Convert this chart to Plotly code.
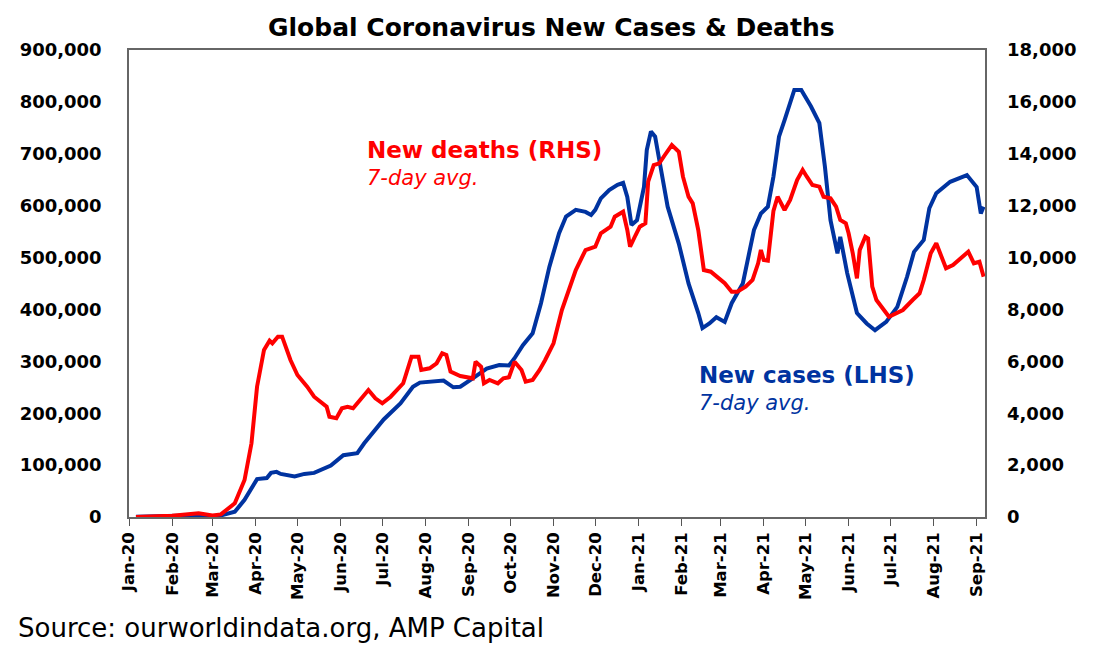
import plotly.graph_objects as go

# ---------------- data ----------------
case_dates = [
    "2020-01-06", "2020-01-22", "2020-02-05", "2020-02-14", "2020-03-01", "2020-03-07",
    "2020-03-17", "2020-03-24", "2020-03-31", "2020-04-02", "2020-04-09", "2020-04-12",
    "2020-04-16", "2020-04-19", "2020-04-29", "2020-05-06", "2020-05-13", "2020-05-20",
    "2020-05-25", "2020-06-03", "2020-06-13", "2020-06-18", "2020-07-02", "2020-07-14",
    "2020-07-23", "2020-07-28", "2020-08-14", "2020-08-21", "2020-08-26", "2020-09-04",
    "2020-09-14", "2020-09-23", "2020-09-30", "2020-10-04", "2020-10-10", "2020-10-17",
    "2020-10-23", "2020-10-29", "2020-11-05", "2020-11-10", "2020-11-17", "2020-11-24",
    "2020-11-28", "2020-12-01", "2020-12-05", "2020-12-11", "2020-12-17", "2020-12-21",
    "2020-12-24", "2020-12-27", "2020-12-31", "2021-01-05", "2021-01-07", "2021-01-10",
    "2021-01-13", "2021-01-16", "2021-01-22", "2021-01-30", "2021-02-06", "2021-02-13",
    "2021-02-16", "2021-02-21", "2021-02-26", "2021-03-04", "2021-03-09", "2021-03-17",
    "2021-03-25", "2021-03-30", "2021-04-04", "2021-04-08", "2021-04-12", "2021-04-16",
    "2021-04-23", "2021-04-28", "2021-05-05", "2021-05-11", "2021-05-15", "2021-05-19",
    "2021-05-24", "2021-05-26", "2021-05-31", "2021-06-07", "2021-06-14", "2021-06-20",
    "2021-06-28", "2021-07-06", "2021-07-13", "2021-07-18", "2021-07-25", "2021-07-29",
    "2021-08-03", "2021-08-13", "2021-08-25", "2021-09-01", "2021-09-04", "2021-09-06",
]
new_cases = [
    500, 600, 2500, 3500, 1500, 3000,
    10000, 33000, 65000, 73000, 75000, 85000,
    87000, 83000, 78000, 83000, 85000, 94000,
    99000, 119000, 123000, 142000, 188000, 219000,
    251000, 259000, 263000, 250000, 251000, 267000,
    286000, 293000, 292000, 306000, 331000, 354000,
    412000, 482000, 547000, 579000, 592000, 588000,
    582000, 592000, 614000, 630000, 640000, 644000,
    617000, 563000, 572000, 636000, 707000, 743000,
    733000, 688000, 598000, 527000, 450000, 393000,
    364000, 373000, 385000, 376000, 412000, 450000,
    553000, 585000, 598000, 656000, 733000, 765000,
    823000, 823000, 791000, 759000, 675000, 572000,
    508000, 540000, 470000, 393000, 373000, 360000,
    376000, 405000, 463000, 511000, 534000, 595000,
    624000, 646000, 659000, 636000, 585000, 598000,
]

death_dates = [
    "2020-01-06", "2020-02-01", "2020-02-20", "2020-03-01", "2020-03-07", "2020-03-17",
    "2020-03-24", "2020-03-29", "2020-04-02", "2020-04-07", "2020-04-11", "2020-04-13",
    "2020-04-17", "2020-04-20", "2020-04-26", "2020-05-01", "2020-05-08", "2020-05-13",
    "2020-05-22", "2020-05-24", "2020-05-29", "2020-06-02", "2020-06-06", "2020-06-10",
    "2020-06-15", "2020-06-21", "2020-06-26", "2020-07-01", "2020-07-07", "2020-07-16",
    "2020-07-22", "2020-07-27", "2020-07-29", "2020-08-04", "2020-08-09", "2020-08-13",
    "2020-08-16", "2020-08-19", "2020-08-26", "2020-09-04", "2020-09-06", "2020-09-10",
    "2020-09-12", "2020-09-16", "2020-09-22", "2020-09-26", "2020-09-30", "2020-10-04",
    "2020-10-09", "2020-10-12", "2020-10-17", "2020-10-22", "2020-10-26", "2020-11-01",
    "2020-11-07", "2020-11-14", "2020-11-17", "2020-11-24", "2020-12-01", "2020-12-05",
    "2020-12-12", "2020-12-15", "2020-12-21", "2020-12-24", "2020-12-26", "2020-12-30",
    "2021-01-02", "2021-01-06", "2021-01-08", "2021-01-12", "2021-01-16", "2021-01-20",
    "2021-01-25", "2021-01-30", "2021-02-02", "2021-02-06", "2021-02-09", "2021-02-13",
    "2021-02-17", "2021-02-22", "2021-02-26", "2021-03-04", "2021-03-09", "2021-03-13",
    "2021-03-19", "2021-03-24", "2021-03-28", "2021-03-30", "2021-04-01", "2021-04-04",
    "2021-04-08", "2021-04-11", "2021-04-16", "2021-04-20", "2021-04-25", "2021-04-29",
    "2021-05-02", "2021-05-06", "2021-05-11", "2021-05-14", "2021-05-19", "2021-05-23",
    "2021-05-26", "2021-05-30", "2021-06-01", "2021-06-04", "2021-06-07", "2021-06-09",
    "2021-06-13", "2021-06-15", "2021-06-18", "2021-06-21", "2021-06-30", "2021-07-03",
    "2021-07-10", "2021-07-17", "2021-07-22", "2021-07-25", "2021-07-30", "2021-08-03",
    "2021-08-07", "2021-08-10", "2021-08-15", "2021-08-22", "2021-08-26", "2021-08-30",
    "2021-09-03", "2021-09-06",
]
new_deaths = [
    0, 50, 140, 60, 100, 528,
    1426, 2840, 5022, 6437, 6795, 6695,
    6950, 6950, 6051, 5473, 5022, 4637,
    4251, 3866, 3804, 4190, 4251, 4190,
    4510, 4895, 4575, 4383, 4637, 5153,
    6179, 6179, 5666, 5731, 5924, 6310,
    6244, 5601, 5435, 5346, 5986, 5793,
    5153, 5281, 5153, 5346, 5385, 5986,
    5666, 5215, 5281, 5666, 6051, 6695,
    7979, 9008, 9520, 10291, 10418, 10935,
    11189, 11574, 11767, 11062, 10418, 10869,
    11189, 11320, 12924, 13567, 13633, 13953,
    14338, 14080, 13117, 12346, 12091, 11062,
    9520, 9455, 9262, 9008, 8684, 8684,
    8877, 9135, 9779, 10291, 9906, 9880,
    11800, 12346, 11833, 12218, 12989, 13375,
    13117, 12797, 12732, 12346, 12283, 11960,
    11448, 11320, 10935, 10163, 9199, 10291,
    10804, 10740, 8877, 8364, 7720, 7786,
    7979, 8364, 8622, 9135, 10163, 10548,
    10034, 9584, 9713, 10034, 10226, 9779,
    9840, 9262,
]

x_range = ["2020-01-01", "2021-09-07"]
left_range = [0, 900000]
right_range = [0, 18000]

title_text = "Global Coronavirus New Cases & Deaths"
source_text = "Source: ourworldindata.org, AMP Capital"
deaths_label = "New deaths (RHS)"
cases_label = "New cases (LHS)"
avg_label = "7-day avg."

BLUE = "#0033A0"
RED = "#FF0000"
FONT = "DejaVu Sans"

fig = go.Figure()
fig.add_trace(go.Scatter(x=case_dates, y=new_cases, mode="lines",
                         line=dict(color=BLUE, width=4), yaxis="y", name="New cases"))
fig.add_trace(go.Scatter(x=death_dates, y=new_deaths, mode="lines",
                         line=dict(color=RED, width=4), yaxis="y2", name="New deaths"))

tick_font = dict(family=FONT, size=18, color="black", weight="bold")

fig.update_layout(
    width=1091, height=643,
    margin=dict(l=115, r=114, t=42, b=134),
    paper_bgcolor="white", plot_bgcolor="white",
    showlegend=False,
    xaxis=dict(
        type="date", range=x_range, tick0="2020-01-01", dtick="M1",
        tickformat="%b-%y", tickangle=-90, ticks="outside", ticklen=7,
        tickcolor="#555555", tickwidth=1.2,
        tickfont=dict(family=FONT, size=16.5, color="black", weight="bold"),
        showgrid=False, zeroline=False,
        showline=True, linecolor="#666666", linewidth=1.5, mirror=True,
    ),
    yaxis=dict(
        range=left_range, dtick=100000, tickformat=",", ticks="",
        tickfont=tick_font, showgrid=False, zeroline=False,
        showline=True, linecolor="#666666", linewidth=1.5, mirror=True,
        ticklabelstandoff=22,
    ),
    yaxis2=dict(
        range=right_range, dtick=2000, tickformat=",", ticks="",
        overlaying="y", side="right",
        tickfont=tick_font, showgrid=False, zeroline=False, showline=False,
        ticklabelstandoff=21,
    ),
)


def label_block(head):
    return ("<span style='font-size:23px'><b>" + head + "</b></span><br>"
            "<span style='font-size:21px'><i>" + avg_label + "</i></span>")


annotations = [
    dict(text="<b>" + title_text.replace("&", "&amp;") + "</b>", x=0.493, y=1.049,
         xanchor="center", yanchor="middle",
         font=dict(family=FONT, size=25, color="black")),
    dict(text=label_block(deaths_label), x=0.276, y=0.818, xanchor="left", yanchor="top",
         align="left", font=dict(family=FONT, size=21, color=RED)),
    dict(text=label_block(cases_label), x=0.663, y=0.337, xanchor="left", yanchor="top",
         align="left", font=dict(family=FONT, size=21, color=BLUE)),
    dict(text=source_text, x=-0.1323, y=-0.2377, xanchor="left", yanchor="middle",
         font=dict(family=FONT, size=26, color="black")),
]
for a in annotations:
    fig.add_annotation(xref="paper", yref="paper", showarrow=False, **a)

fig.write_html("out.html")
